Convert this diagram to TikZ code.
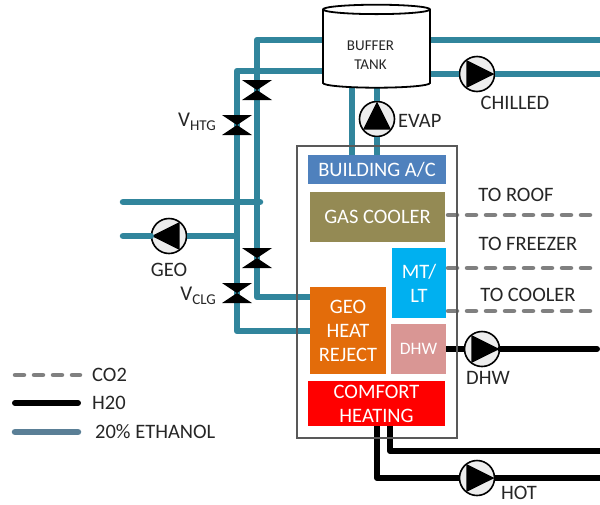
\documentclass[tikz,border=0pt]{standalone}
\usepackage{fontspec}
\usepackage{tikz}
\usepackage{xcolor}
\usetikzlibrary{shapes.geometric}
\setmainfont{Carlito}
\definecolor{ethanol}{HTML}{31859C}
\definecolor{legendethanol}{HTML}{5A7F96}
\definecolor{labeltext}{HTML}{262626}
\definecolor{buildingblue}{HTML}{4F81BD}
\definecolor{gasolive}{HTML}{948A54}
\definecolor{mtblue}{HTML}{00B0F0}
\definecolor{rejectorange}{HTML}{E36C0A}
\definecolor{dhwpink}{HTML}{D99694}
\newcommand{\fsize}[2]{\fontsize{#1}{#2}\selectfont}
\newcommand{\vsub}[1]{V\raisebox{-3.5pt}{\fsize{15}{15}#1}}
\tikzset{
  pipe/.style={color=ethanol, line width=6.5pt, line join=round},
  water/.style={color=black, line width=6pt, line join=round},
  gas/.style={color=black!50, line width=4.5pt, line cap=round, dash pattern=on 9pt off 10pt},
  unit/.style={fill=#1, text=white, inner sep=0pt, align=center, font=\fsize{20.5}{24}},
  tag/.style={text=labeltext, inner sep=0pt, font=\fsize{20.5}{24}},
  pump/.style={circle, draw, line width=1.6pt, fill=black!7, minimum size=35pt, inner sep=0pt,
    path picture={\fill[black, shift={(path picture bounding box.center)}]
      (#1:17.5) -- (#1+127:17.5) -- (#1-127:17.5) -- cycle;}},
  valve/.style={minimum width=30pt, minimum height=20pt, inner sep=0pt,
    path picture={\fill[black, shift={(path picture bounding box.center)}]
      (-15,-10) -- (15,-10) -- (-15,10) -- (15,10) -- cycle;}}
}
\begin{document}
\begin{tikzpicture}[x=1pt, y=-1pt]
  \useasboundingbox (0,0) rectangle (600,504);
  % pumps
  \node[pump=0] (chilled) at (477,74) {};
  \node[pump=270] (evap) at (377,119) {};
  \node[pump=180] (geo) at (169,236) {};
  \node[pump=0] (dhwpump) at (482,349) {};
  \node[pump=0] (hot) at (477,478) {};
  % units
  \node[unit=buildingblue, minimum width=138pt, minimum height=29pt] (building) at (377,169.5) {BUILDING A/C};
  \node[unit=gasolive, minimum width=135pt, minimum height=50pt] (gascooler) at (377.5,217) {GAS COOLER};
  \node[unit=mtblue, minimum width=54pt, minimum height=70pt] (mtlt) at (419,283) {MT/\\LT};
  \node[unit=rejectorange, minimum width=76pt, minimum height=87pt] (reject) at (348,330.5) {GEO\\HEAT\\REJECT};
  \node[unit=dhwpink, minimum width=55pt, minimum height=50pt, font=\fsize{17.5}{20}] (dhw) at (418.5,349) {DHW};
  \node[unit=red, minimum width=137pt, minimum height=45pt] (comfort) at (376.5,403.5) {COMFORT\\HEATING};
  % free ends
  \coordinate (tankupper) at (323,40);
  \coordinate (tanklower) at (323,71);
  \coordinate (upperturn) at (257,40);
  \coordinate (lowerturn) at (237,71);
  \coordinate (rejectupper) at (310,297);
  \coordinate (rejectlower) at (310,331);
  \coordinate (geosupply) at (123,202);
  \coordinate (geosupplyend) at (260,202);
  \coordinate (georeturn) at (123,236);
  \coordinate (georeturnend) at (240,236);
  \coordinate (tankright) at (430,40);
  \coordinate (tankrightlow) at (430,74);
  \coordinate (chwsupply) at (600,40);
  \coordinate (chwreturn) at (600,74);
  \coordinate (tankbottom) at (352,88);
  \coordinate (buildingtop) at (352,155);
  \coordinate (evaptank) at (377,88);
  \coordinate (evapunit) at (377,155);
  \coordinate (roofstart) at (448,215);
  \coordinate (roofend) at (597,215);
  \coordinate (freezerstart) at (448,268);
  \coordinate (freezerend) at (597,268);
  \coordinate (coolerstart) at (448,311);
  \coordinate (coolerend) at (597,311);
  \coordinate (dhwend) at (597,349);
  \coordinate (hotstart) at (377,426);
  \coordinate (hotend) at (600,478);
  \coordinate (retstart) at (390,426);
  \coordinate (retend) at (600,451);
  % ethanol
  \draw[pipe] (tankupper) -- (upperturn) |- (rejectupper);
  \draw[pipe] (tanklower) -- (lowerturn) |- (rejectlower);
  \draw[pipe, line cap=round] (geosupply) -- (geosupplyend);
  \draw[pipe, line cap=round] (georeturn) -- (geo);
  \draw[pipe] (geo) -- (georeturnend);
  \draw[pipe] (tankright) -- (chwsupply);
  \draw[pipe] (tankrightlow) -- (chilled);
  \draw[pipe] (chilled) -- (chwreturn);
  \draw[pipe] (tankbottom) -- (buildingtop);
  \draw[pipe] (evaptank) -- (evap);
  \draw[pipe] (evap) -- (evapunit);
  % water
  \draw[water] (dhw.east) -- (dhwpump);
  \draw[water, line cap=round] (dhwpump) -- (dhwend);
  \draw[water] (hotstart) |- (hot);
  \draw[water] (hot) -- (hotend);
  \draw[water] (retstart) |- (retend);
  % co2
  \draw[gas] (roofstart) -- (roofend);
  \draw[gas] (freezerstart) -- (freezerend);
  \draw[gas] (coolerstart) -- (coolerend);
  % frame and tank
  \node[draw=black!65, line width=2pt, minimum width=160pt, minimum height=292pt, inner sep=0pt] (frame) at (377,292) {};
  \node[cylinder, draw, line width=1.8pt, fill=white, shape border rotate=90, aspect=0.2,
    minimum width=107pt, minimum height=83pt, inner sep=0pt, font=\fsize{15}{18.5}] (tank) at (376.5,49) {\phantom{BUFFER}};
  \node[tag, align=center, font=\fsize{15}{18.5}] (tanklabel) at (370.5,55) {BUFFER\\TANK};
  % valves
  \node[valve] (vupper) at (257,90) {};
  \node[valve] (vhtg) at (237,125) {};
  \node[valve] (vlower) at (257,258) {};
  \node[valve] (vclg) at (237,293) {};
  % labels
  \node[tag, font=\fsize{21}{21}, anchor=east] (vhtglabel) at (216,122) {\vsub{HTG}};
  \node[tag, font=\fsize{21}{21}, anchor=east] (vclglabel) at (216,296) {\vsub{CLG}};
  \node[tag] (geolabel) at (169,270) {GEO};
  \node[tag, anchor=west] (evaplabel) at (398,121) {EVAP};
  \node[tag] (chilledlabel) at (515,103) {CHILLED};
  \node[tag] (roof) at (516,195) {TO ROOF};
  \node[tag] (freezer) at (528,244) {TO FREEZER};
  \node[tag] (cooler) at (528,295) {TO COOLER};
  \node[tag] (dhwlabel) at (488,378) {DHW};
  \node[tag] (hotlabel) at (519,493) {HOT};
  % legend
  \node[tag, anchor=west] (co2text) at (92,375) {CO2};
  \node[tag, anchor=west] (h2otext) at (92,403) {H20};
  \node[tag, anchor=west] (ethtext) at (95,432) {20\% ETHANOL};
  \coordinate (co2start) at (15,375);
  \coordinate (co2end) at (80,375);
  \coordinate (h2ostart) at (15,403);
  \coordinate (h2oend) at (78,403);
  \coordinate (ethstart) at (15,432);
  \coordinate (ethend) at (78,432);
  \draw[gas] (co2start) -- (co2end);
  \draw[water, line cap=round] (h2ostart) -- (h2oend);
  \draw[pipe, line cap=round, color=legendethanol] (ethstart) -- (ethend);
\end{tikzpicture}
\end{document}
